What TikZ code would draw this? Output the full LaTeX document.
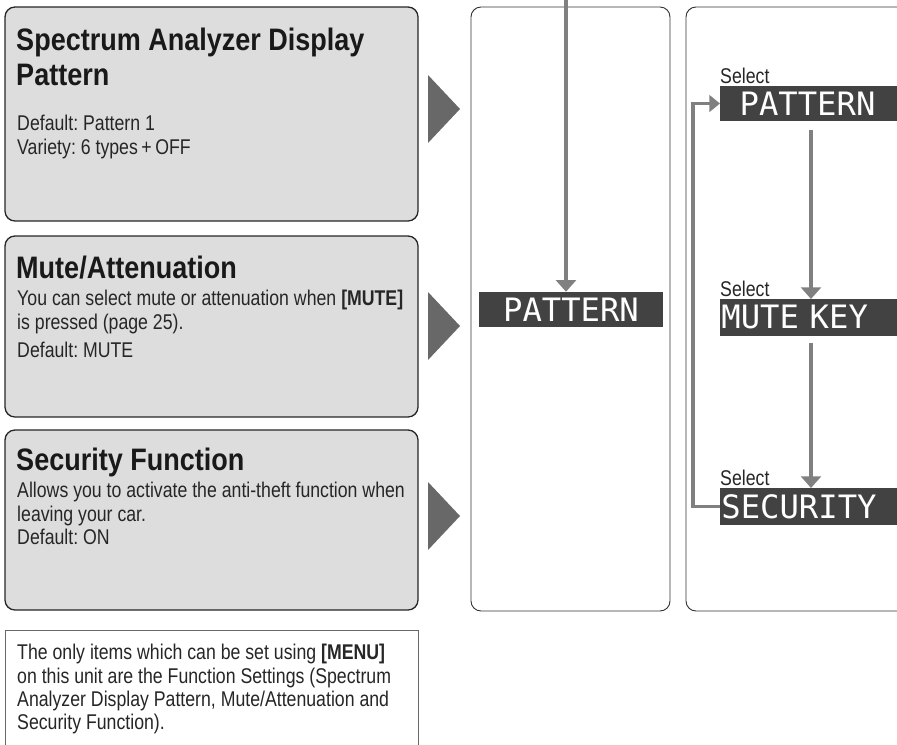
\documentclass[tikz,border=0pt]{standalone}
\usepackage{fontspec}
\setmainfont{Liberation Sans}[FakeStretch=0.83]
\newfontfamily\titlefont{Liberation Sans}[FakeStretch=0.87]
\newfontfamily\lcdfont{DejaVu Sans Mono}
\usetikzlibrary{arrows.meta, positioning, fit}
\definecolor{panelgray}{RGB}{221, 221, 221}
\definecolor{lcdgray}{RGB}{66, 66, 66}
\definecolor{flowgray}{RGB}{128, 128, 128}
\definecolor{markgray}{RGB}{104, 104, 104}

\begin{document}
\begin{tikzpicture}[x=0.03cm, y=-0.03cm,
        fnbox/.style={rectangle, rounded corners=8.5pt, draw=black!85, line width=1.1pt,
                      fill=panelgray, inner sep=0pt},
        notebox/.style={rectangle, draw=markgray, line width=0.8pt, fill=white, inner sep=0pt},
        panel/.style={rectangle, rounded corners=8.5pt, draw=black!80, line width=0.8pt,
                      fill=white, inner sep=0pt},
        titletext/.style={anchor=north west, inner sep=0pt, align=left,
                          font=\titlefont\bfseries\fontsize{26.5}{30}\selectfont, text=black!90},
        bodytext/.style={anchor=north west, inner sep=0pt, align=left,
                         font=\frenchspacing\fontsize{18.2}{20}\selectfont, text=black!85},
        lcd/.style={rectangle, fill=lcdgray, text=white, inner xsep=0pt, inner ysep=0pt,
                    font=\lcdfont\fontsize{27.5}{27.5}\selectfont},
        flow/.style={-{Triangle[width=17pt, length=10pt]}, line width=3.4pt, flowgray},
        loopline/.style={-{Triangle[width=14pt, length=9pt]}, line width=3pt, flowgray},
        tri/.style={fill=markgray}
    ]
    \useasboundingbox (0,0) rectangle (897,744);
    \clip (0,0) rectangle (897,744);

    % function boxes on the left
    \node[fnbox, fit={(5,7) (418,221)}] (spec) {};
    \node[fnbox, fit={(5,236) (418,417)}] (mute) {};
    \node[fnbox, fit={(5,430) (418,610)}] (secu) {};
    \node[notebox, fit={(5,630) (418,770)}] (note) {};

    \node[titletext] (spectitle) at (16,28) {Spectrum Analyzer Display\\Pattern};
    \node[bodytext] (specbody) at (17,115) {Default: Pattern 1\\Variety: 6 types\,+\,OFF};

    \node[titletext] (mutetitle) at (16,256) {Mute/Attenuation};
    \node[bodytext] (mutebody) at (17,290) {You can select mute or attenuation when \textbf{[MUTE]}\\is pressed (page 25).};
    \node[bodytext] (mutedef) at (17,342) {Default: MUTE};

    \node[titletext] (secutitle) at (16,448) {Security Function};
    \node[bodytext] (secubody) at (17,482) {Allows you to activate the anti-theft function when\\leaving your car.\\Default: ON};

    \node[bodytext] (notebody) at (17,644) {The only items which can be set using \textbf{[MENU]}\\on this unit are the Function Settings (Spectrum\\Analyzer Display Pattern, Mute/Attenuation and\\Security Function).};

    \foreach \cy in {109, 326, 516}
        \fill[tri] (428,\cy-34) -- (460,\cy) -- (428,\cy+34) -- cycle;

    % display panels
    \node[panel, fit={(471,7) (670,611)}] (menu) {};
    \node[panel, fit={(686,7) (920,611)}] (choice) {};

    \node[lcd, fit={(479,292) (663,327)}] (midpat) {};
    \node[lcd] at (midpat.center) {PATTERN};

    \node[lcd, anchor=north west, minimum height=29.5pt, text width=170pt] (rpat) at (720,86) {\hphantom{P}PATTERN};
    \node[lcd, anchor=north west, minimum height=31pt, text width=170pt] (rmute) at (720,299) {\hspace{1pt}MUTE KEY};
    \node[lcd, anchor=north west, minimum height=31pt, text width=170pt] (rsec) at (720,488) {\hspace{1pt}SECURITY};

    \foreach \d in {rpat, rmute, rsec}
        \node[bodytext, anchor=south west, inner ysep=1.5pt] at (\d.north west) {Select};

    % connectors
    \coordinate (midtop) at (566,0);
    \coordinate (rx) at (811,0);
    \coordinate (lx) at (693,0);
    \draw[flow] (midtop) -- (midtop |- midpat.north);
    \draw[flow, shorten <=8pt] (rx |- rpat.south) -- (rx |- rmute.north);
    \draw[flow, shorten <=6pt] (rx |- rmute.south) -- (rx |- rsec.north);
    \draw[loopline] (rsec.west) -- (lx |- rsec.west) -- (lx |- rpat.west) -- (rpat.west);
\end{tikzpicture}
\end{document}
